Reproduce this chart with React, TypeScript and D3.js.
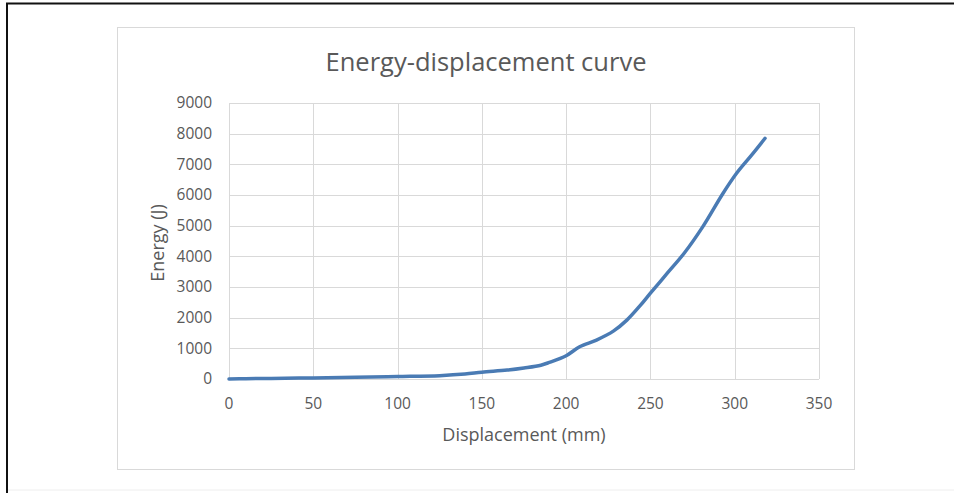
import React from "react";
import * as d3 from "d3";

const displacement = [0, 10, 25, 50, 75, 100, 125, 140, 150, 165, 175, 185, 190, 200, 208, 218, 228, 236, 244, 250, 260, 270, 281, 293, 301, 310, 318];
const energy = [0, 10, 20, 35, 55, 80, 110, 160, 220, 290, 360, 450, 540, 760, 1050, 1270, 1560, 1920, 2400, 2800, 3450, 4100, 4960, 6050, 6700, 7300, 7850];
const xTicks = [0, 50, 100, 150, 200, 250, 300, 350];
const yTicks = [0, 1000, 2000, 3000, 4000, 5000, 6000, 7000, 8000, 9000];

const title = "Energy-displacement curve";
const xTitle = "Displacement (mm)";
const yTitle = "Energy (J)";

export default function App() {
  const W = 954, H = 493;
  const x = d3.scaleLinear().domain([0, 350]).range([229, 819]);
  const y = d3.scaleLinear().domain([0, 9000]).range([379, 103]);
  const pts = displacement.map((d, i) => [d, energy[i]] as [number, number]);
  const line = d3.line<[number, number]>().x(d => x(d[0])).y(d => y(d[1])).curve(d3.curveCatmullRom.alpha(0.5));
  const font = "'Open Sans', sans-serif";
  const textColor = "#595959";
  const grid = "#d9d9d9";
  return (
    <svg width={W} height={H} style={{ position: "absolute", left: 0, top: 0, background: "#fff" }}>
      <line x1={6} y1={3.5} x2={W} y2={3.5} stroke="#111" strokeWidth={2} />
      <line x1={7} y1={3} x2={7} y2={H} stroke="#111" strokeWidth={2} />
      <line x1={8} y1={490} x2={W} y2={490} stroke="#eeeeee" strokeWidth={1} />
      <rect x={117.5} y={27.5} width={737} height={442} fill="#fff" stroke={grid} strokeWidth={1} />
      {yTicks.map(t => (
        <g key={"y" + t}>
          <line x1={x(0)} x2={x(350)} y1={Math.round(y(t)) + 0.5} y2={Math.round(y(t)) + 0.5} stroke={grid} strokeWidth={1} />
          <text x={212} y={y(t)} dy="0.35em" textAnchor="end" fontFamily={font} fontSize={15.5} fill={textColor}>{t}</text>
        </g>
      ))}
      {xTicks.map(t => (
        <g key={"x" + t}>
          <line x1={Math.round(x(t)) + 0.5} x2={Math.round(x(t)) + 0.5} y1={y(9000)} y2={y(0)} stroke={grid} strokeWidth={1} />
          <text x={x(t)} y={409} textAnchor="middle" fontFamily={font} fontSize={15.5} fill={textColor}>{t}</text>
        </g>
      ))}
      <path d={line(pts) || ""} fill="none" stroke="#4a7bb4" strokeWidth={3.5} strokeLinecap="round" strokeLinejoin="round" />
      <text x={486} y={71} textAnchor="middle" fontFamily={font} fontSize={25.5} fill={textColor}>{title}</text>
      <text x={524} y={441} textAnchor="middle" fontFamily={font} fontSize={18} fill={textColor}>{xTitle}</text>
      <text transform={`translate(164,243) rotate(-90)`} textAnchor="middle" fontFamily={font} fontSize={18} fill={textColor}>{yTitle}</text>
    </svg>
  );
}
